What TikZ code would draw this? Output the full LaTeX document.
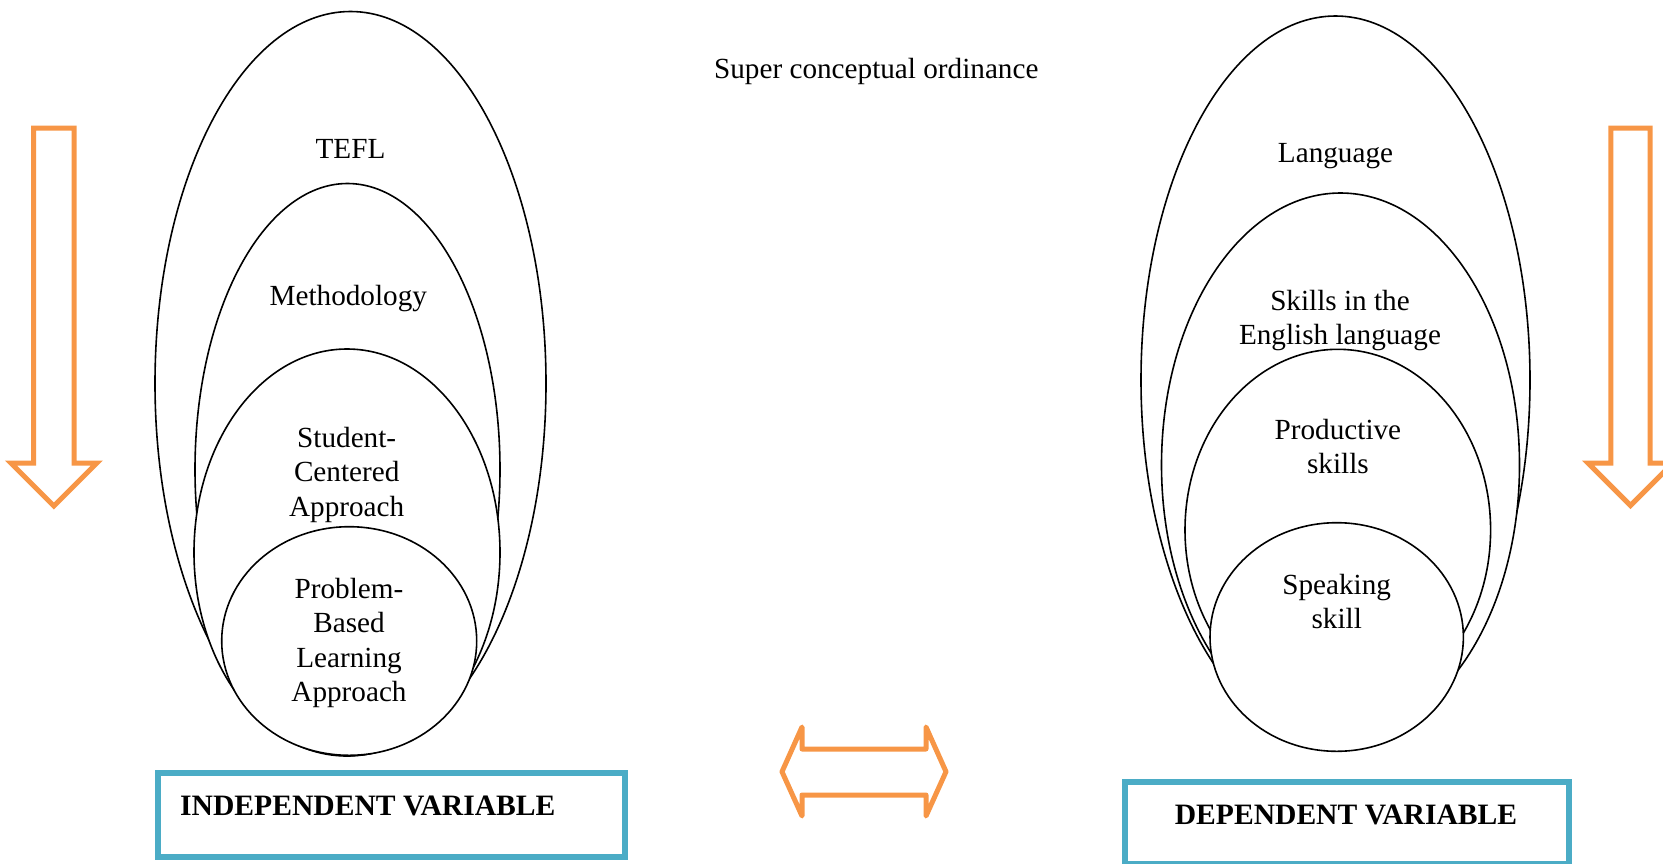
\documentclass[tikz,border=0pt]{standalone}
\usepackage{fontspec}
\setmainfont{Liberation Serif}
\definecolor{arroworange}{HTML}{F79646}
\definecolor{varblue}{HTML}{4BACC6}
\begin{document}
\begin{tikzpicture}[x=1pt,y=-1pt,
  ring/.style={draw=black,line width=1.6pt,fill=white},
  lbl/.style={font=\fontsize{29.2}{34.3}\selectfont,align=center,inner sep=0pt,anchor=base},
  varbox/.style={draw=varblue,line width=6pt},
  vartext/.style={font=\bfseries\fontsize{29.6}{34}\selectfont,inner sep=0pt},
  bigarrow/.style={draw=arroworange,line width=5pt,fill=white,line join=miter},
  twoarrow/.style={draw=arroworange,line width=5pt,fill=white,line join=round}]
\useasboundingbox (0,0) rectangle (1663,863);

% left nested ellipses
\draw[ring] (350.5,383.5) ellipse [x radius=195.5pt, y radius=372pt];
\draw[ring] (347.5,469.5) ellipse [x radius=152.5pt, y radius=286pt];
\draw[ring] (347,552.5) ellipse [x radius=153pt, y radius=203.5pt];
\draw[ring] (349.2,641) ellipse [x radius=127.5pt, y radius=114.3pt];

% right nested ellipses
\draw[ring] (1335.5,380) ellipse [x radius=194.5pt, y radius=364pt];
\draw[ring] (1340.5,465) ellipse [x radius=179pt, y radius=272pt];
\draw[ring] (1337.8,530) ellipse [x radius=152.8pt, y radius=180.7pt];
\draw[ring] (1336.7,637) ellipse [x radius=126.7pt, y radius=114.3pt];

% texts (base anchor = baseline of the last line)
\node[lbl] (super) at (876.3,78.3) {Super conceptual ordinance};
\node[lbl] (tefl) at (350.5,158) {TEFL};
\node[lbl] (meth) at (348.3,305.5) {Methodology};
\node[lbl] (stud) at (346.7,516) {Student-\\Centered\\Approach};
\node[lbl] (pbl) at (349,701.3) {Problem-\\Based\\Learning\\Approach};
\node[lbl] (lang) at (1335.5,162.8) {Language};
\node[lbl] (skills) at (1340,344.8) {Skills in the\\English language};
\node[lbl] (prod) at (1337.9,473.8) {Productive\\skills};
\node[lbl] (speak) at (1336.7,628.3) {Speaking\\skill};

% variable boxes
\draw[varbox] (157.5,772.5) rectangle (624.5,857);
\node[vartext,anchor=base west] (indep) at (180,815.3) {INDEPENDENT VARIABLE};
\draw[varbox] (1125,781.7) rectangle (1569,864);
\node[vartext,anchor=base] (dep) at (1346,824.8) {DEPENDENT VARIABLE};

% orange arrows
\draw[bigarrow] (33.5,128) -- (74.2,128) -- (74.2,463) -- (96.8,463) -- (53.8,506) -- (10.8,463) -- (33.5,463) -- cycle;
\draw[bigarrow] (1610.8,128) -- (1650.2,128) -- (1650.2,463) -- (1673,463) -- (1630.5,505.5) -- (1588,463) -- (1610.8,463) -- cycle;
\draw[twoarrow] (782,771.7) -- (802,727) -- (802,749) -- (926,749) -- (926,727) -- (946,771.7) -- (926,816) -- (926,795) -- (802,795) -- (802,816) -- cycle;
\end{tikzpicture}
\end{document}
